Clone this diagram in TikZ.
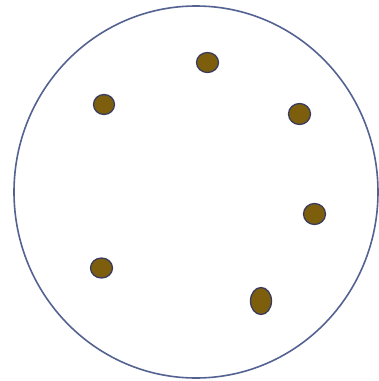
\documentclass[tikz,border=0pt]{standalone}
\definecolor{ringblue}{RGB}{84,98,145}
\definecolor{dotfill}{RGB}{125,94,12}
\definecolor{dotedge}{RGB}{58,60,95}
\tikzset{
  ring/.style={draw=ringblue, line width=1.6pt},
  seed/.style={draw=dotedge, fill=dotfill, line width=1.3pt}
}
\begin{document}
\begin{tikzpicture}[x=1pt,y=-1pt]
\useasboundingbox (0,0) rectangle (379,381);
\draw[ring] (196,192) ellipse [x radius=182, y radius=186];
\draw[seed] (207.5,62.5) ellipse [x radius=11, y radius=10];
\draw[seed] (104,104.5) ellipse [x radius=10.5, y radius=10];
\draw[seed] (299.5,114) ellipse [x radius=11, y radius=10.5];
\draw[seed] (314.5,214) ellipse [x radius=11, y radius=10.5];
\draw[seed] (101.5,268) ellipse [x radius=11, y radius=10];
\draw[seed] (261,301) ellipse [x radius=10.5, y radius=13.5];
\end{tikzpicture}
\end{document}
